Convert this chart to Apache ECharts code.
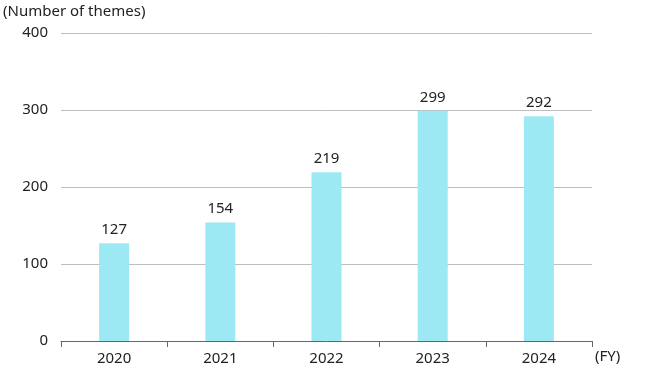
<!DOCTYPE html>
<html><head><meta charset="utf-8">
<script src="https://cdn.jsdelivr.net/npm/echarts@6/dist/echarts.min.js"></script>
<style>html,body{margin:0;padding:0;background:#fff}#c{width:660px;height:370px}</style>
</head><body><div id="c"></div>
<script>
const categories = ['2020','2021','2022','2023','2024'];
const values = [127, 154, 219, 299, 292];
const yTicks = [0, 100, 200, 300, 400];

const FONT = '"Noto Sans", sans-serif';
const chart = echarts.init(document.getElementById('c'), null, {renderer:'canvas'});
chart.setOption({
  animation: false,
  textStyle: {fontFamily: FONT},
  grid: {left: 61, right: 68, top: 33, bottom: 29},
  graphic: [
    {type:'text', left: 3, top: 4, style:{text:'(Number of themes)', font:'15px ' + FONT, fill:'#222'}},
    {type:'text', left: 595, top: 349, style:{text:'(FY)', font:'15px ' + FONT, fill:'#222'}}
  ],
  xAxis: {
    type: 'category', data: categories,
    axisLine: {lineStyle:{color:'#666', width:1}},
    axisTick: {show:true, length:6, lineStyle:{color:'#666'}},
    axisLabel: {color:'#222', fontSize:15, margin:10, fontFamily: FONT}
  },
  yAxis: {
    type: 'value', min: yTicks[0], max: yTicks[yTicks.length-1], interval: 100,
    axisLine: {show:false}, axisTick: {show:false},
    splitLine: {lineStyle:{color:'#bdbdbd', width:1}},
    axisLabel: {color:'#222', fontSize:15, margin:13, fontFamily: FONT}
  },
  series: [{
    type: 'bar', data: values, barWidth: 30,
    itemStyle: {color:'#9ce8f3'},
    label: {show:true, position:'top', distance:6, color:'#222', fontSize:15, fontFamily: FONT}
  }]
});
</script></body></html>
